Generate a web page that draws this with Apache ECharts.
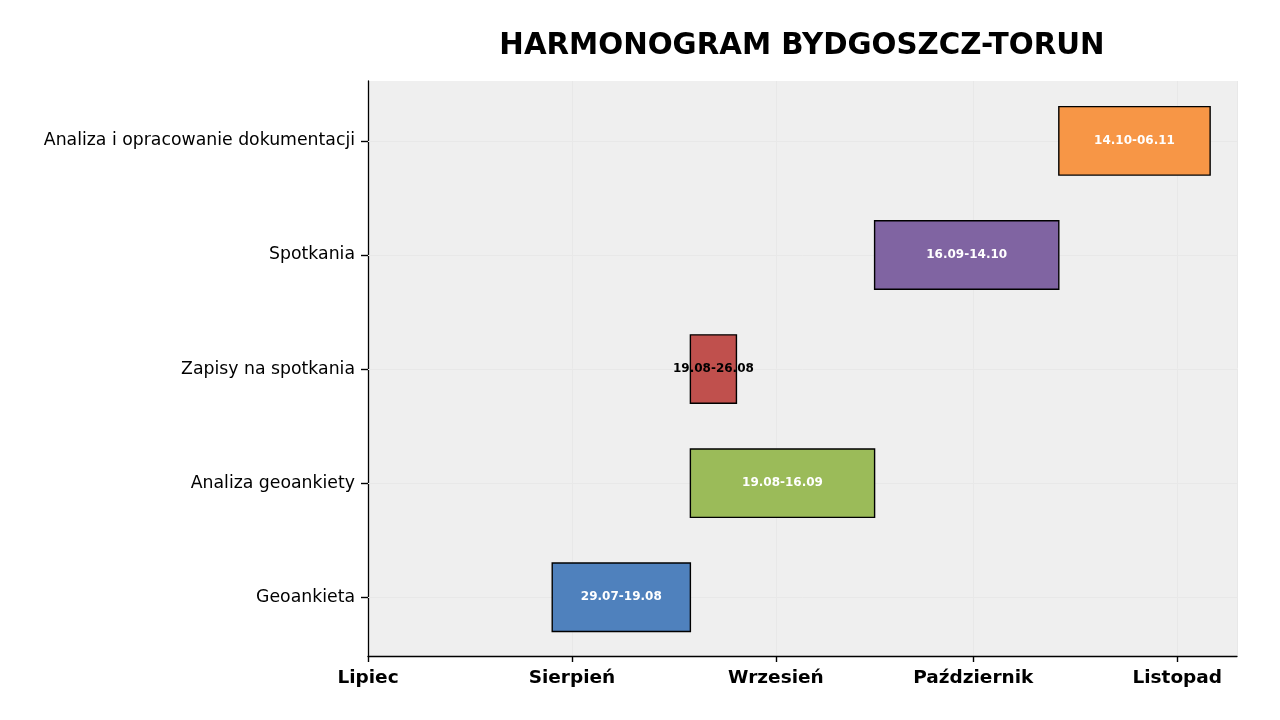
<!DOCTYPE html>
<html>
<head>
<meta charset="utf-8" />
<script src="https://cdn.jsdelivr.net/npm/echarts@6/dist/echarts.min.js"></script>
<style>
	html, body { margin: 0; padding: 0; background: #fff; }
	#chart { width: 1280px; height: 720px; }
</style>
</head>
<body>
<div id="chart"></div>
<script type="text/javascript">
// zadania (od dołu do góry)
var tasks = ['Geoankieta', 'Analiza geoankiety', 'Zapisy na spotkania', 'Spotkania', 'Analiza i opracowanie dokumentacji'];
var taskIdx = [0, 1, 2, 3, 4];
var startDates = ['2024-07-29', '2024-08-19', '2024-08-19', '2024-09-16', '2024-10-14'];
var endDates = ['2024-08-19', '2024-09-16', '2024-08-26', '2024-10-14', '2024-11-06'];
var barLabels = ['29.07-19.08', '19.08-16.09', '19.08-26.08', '16.09-14.10', '14.10-06.11'];
var barColors = ['#4f81bd', '#9bbb59', '#c0504d', '#8064a2', '#f79646'];
var labelColors = ['#ffffff', '#ffffff', '#000000', '#ffffff', '#ffffff'];
var monthNames = ['Styczeń', 'Luty', 'Marzec', 'Kwiecień', 'Maj', 'Czerwiec', 'Lipiec', 'Sierpień', 'Wrzesień', 'Październik', 'Listopad', 'Grudzień'];

var FONT = 'DejaVu Sans';

var data = taskIdx.map(function (i) {
	return [i, +new Date(startDates[i] + 'T00:00:00'), +new Date(endDates[i] + 'T00:00:00')];
});

function renderBar(params, api) {
	var idx = api.value(0);
	var p1 = api.coord([api.value(1), idx]);
	var p2 = api.coord([api.value(2), idx]);
	var h = api.size([0, 1])[1] * 0.6;
	return {
		type: 'group',
		children: [
			{
				type: 'rect',
				shape: { x: p1[0], y: p1[1] - h / 2, width: p2[0] - p1[0], height: h },
				style: { fill: barColors[idx], stroke: '#000', lineWidth: 1.4 }
			},
			{
				type: 'text',
				style: {
					x: (p1[0] + p2[0]) / 2, y: p1[1],
					text: barLabels[idx],
					fill: labelColors[idx],
					font: 'bold 12px "' + FONT + '"',
					align: 'center', verticalAlign: 'middle'
				}
			}
		]
	};
}

var myChart = echarts.init(document.getElementById('chart'));

var option = {
	backgroundColor: '#ffffff',
	animation: false,
	title: {
		text: 'HARMONOGRAM BYDGOSZCZ-TORUN',
		left: 797, top: 27, textAlign: 'center',
		textStyle: { fontFamily: FONT, fontSize: 29.3, fontWeight: 'bold', color: '#000' }
	},
	grid: {
		left: 368, right: 43, top: 81, bottom: 64,
		show: true, backgroundColor: '#efefef', borderWidth: 0
	},
	xAxis: {
		type: 'time',
		min: +new Date('2024-07-01T00:00:00'),
		max: +new Date('2024-11-10T02:00:00'),
		minInterval: 28 * 86400000,
		axisLine: { onZero: false, lineStyle: { color: '#000', width: 1.3 } },
		axisTick: { show: true, length: 6, lineStyle: { color: '#000', width: 1.4 } },
		splitLine: { show: true, lineStyle: { color: '#e8e8e8', width: 1 } },
		axisLabel: {
			fontFamily: FONT, fontSize: 18.5, fontWeight: 'bold', color: '#000', margin: 13,
			hideOverlap: false,
			formatter: function (v) {
				var d = new Date(v);
				return d.getDate() === 1 ? monthNames[d.getMonth()] : '';
			}
		}
	},
	yAxis: {
		type: 'value',
		min: -0.515, max: 4.525,
		axisLine: { show: true, onZero: false, lineStyle: { color: '#000', width: 1.3 } },
		axisTick: { show: true, length: 7, customValues: taskIdx, lineStyle: { color: '#000', width: 1.4 } },
		splitLine: { show: false },
		axisLabel: {
			fontFamily: FONT, fontSize: 17.3, color: '#000', margin: 13,
			customValues: taskIdx,
			formatter: function (v) { return tasks[Math.round(v)]; }
		}
	},
	series: [
		{
			// poziome linie siatki przy zadaniach
			type: 'line',
			z: 1,
			data: [],
			markLine: {
				silent: true, symbol: 'none', label: { show: false },
				lineStyle: { color: '#e8e8e8', type: 'solid', width: 1 },
				data: taskIdx.map(function (i) { return { yAxis: i }; })
			}
		},
		{
			type: 'custom',
			z: 5,
			renderItem: renderBar,
			encode: { x: [1, 2], y: 0 },
			data: data
		}
	]
};
myChart.setOption(option);
</script>
</body>
</html>
